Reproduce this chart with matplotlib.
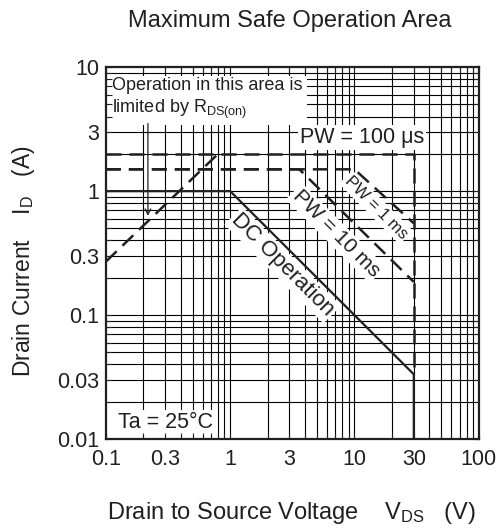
import numpy as np
import matplotlib
matplotlib.use("Agg")
import matplotlib.pyplot as plt
from matplotlib.ticker import FixedLocator, FixedFormatter, NullFormatter

plt.rcParams['font.family'] = ['Liberation Sans', 'DejaVu Sans']
plt.rcParams['mathtext.fontset'] = 'custom'
plt.rcParams['mathtext.rm'] = 'Liberation Sans'
plt.rcParams['mathtext.it'] = 'Liberation Sans'

# safe operating area boundaries (V_DS in V, I_D in A)
dc_v = [0.1, 1, 30, 30]
dc_i = [1.0, 1.0, 0.0333, 0.01]
pw100us_v = [0.1, 30, 30]
pw100us_i = [2.0, 2.0, 0.0333]
pw1ms_v = [0.1, 10, 30]
pw1ms_i = [1.5, 1.5, 0.55]
pw10ms_v = [0.1, 3.6, 30]
pw10ms_i = [1.5, 1.5, 0.185]
rds_v = [0.1, 0.8]
rds_i = [0.27, 2.0]

tick_vals = [0.1, 0.3, 1, 3, 10, 30, 100]
tick_labels = ['0.1', '0.3', '1', '3', '10', '30', '100']
ytick_vals = [0.01, 0.03, 0.1, 0.3, 1, 3, 10]
ytick_labels = ['0.01', '0.03', '0.1', '0.3', '1', '3', '10']

ink = '#231f20'

fig = plt.figure(figsize=(5.04, 5.29), dpi=100)
ax = fig.add_axes([0.210, 0.170, 0.740, 0.703])
ax.set_xscale('log')
ax.set_yscale('log')
ax.set_xlim(0.1, 100)
ax.set_ylim(0.01, 10)

# grid drawn by hand so that text boxes can cover it while ticks stay on top
def log_grid(lo, hi):
    out = []
    for e in range(int(np.log10(lo)), int(np.log10(hi)) + 1):
        for m in range(1, 10):
            v = m * 10.0 ** e
            if lo < v < hi:
                out.append(v)
    return out

for v in log_grid(0.1, 100):
    ax.axvline(v, color='black', lw=0.8, zorder=1)
for v in log_grid(0.01, 10):
    ax.axhline(v, color='black', lw=0.8, zorder=1)

ax.plot(dc_v, dc_i, color=ink, lw=1.6, zorder=3)
dash = dict(color=ink, lw=1.8, dashes=(6, 3.2), zorder=3)
ax.plot(pw100us_v, pw100us_i, **dash)
ax.plot(pw1ms_v, pw1ms_i, **dash)
ax.plot(pw10ms_v, pw10ms_i, **dash)
ax.plot(rds_v, rds_i, **dash)

wbox = dict(facecolor='white', edgecolor='none', pad=1.5)
ax.text(0.112, 8.4, 'Operation in this area is\nlimited by R$_{\\mathrm{DS(on)}}$',
        fontsize=13, ha='left', va='top', linespacing=1.25, color=ink,
        bbox=dict(facecolor='white', edgecolor='none', pad=3), zorder=2)
ax.annotate('', xy=(0.218, 0.6), xytext=(0.218, 3.7),
            arrowprops=dict(arrowstyle='->', color=ink, lw=0.9), zorder=2)
ax.text(11.5, 2.72, 'PW = 100 μs', fontsize=15.5, ha='center', va='center',
        color=ink, bbox=wbox, zorder=2)
ax.text(14.9, 0.74, 'PW = 1 ms', fontsize=12, ha='center', va='center',
        rotation=-45, rotation_mode='anchor', color=ink, bbox=wbox, zorder=2)
ax.text(7.08, 0.458, 'PW = 10 ms', fontsize=15, ha='center', va='center',
        rotation=-45, rotation_mode='anchor', color=ink, bbox=wbox, zorder=2)
ax.text(2.65, 0.253, 'DC Operation', fontsize=16, ha='center', va='center',
        rotation=-45, rotation_mode='anchor', color=ink, bbox=wbox, zorder=2)
ax.text(0.30, 0.0135, 'Ta = 25°C', fontsize=15.5, ha='center', va='center',
        color=ink, bbox=wbox, zorder=2)

ax.set_axisbelow(False)
ax.xaxis.set_major_locator(FixedLocator(tick_vals))
ax.xaxis.set_major_formatter(FixedFormatter(tick_labels))
ax.xaxis.set_minor_formatter(NullFormatter())
ax.yaxis.set_major_locator(FixedLocator(ytick_vals))
ax.yaxis.set_major_formatter(FixedFormatter(ytick_labels))
ax.yaxis.set_minor_formatter(NullFormatter())
ax.tick_params(which='both', direction='in', top=True, right=True,
               length=4, width=0.8, colors=ink, labelsize=15.5, pad=5)
ax.tick_params(axis='x', pad=7)
for s in ax.spines.values():
    s.set_linewidth(1.6)
    s.set_color(ink)
    s.set_zorder(4)

fig.text(0.575, 0.960, 'Maximum Safe Operation Area', fontsize=17,
         ha='center', va='center', color=ink)
fig.text(0.578, 0.030, 'Drain to Source Voltage    V$_{\\mathrm{DS}}$   (V)',
         fontsize=17, ha='center', va='center', color=ink)
fig.text(0.046, 0.507, 'Drain Current    I$_{\\mathrm{D}}$   (A)',
         fontsize=16.5, ha='center', va='center', rotation=90, color=ink)

fig.savefig('out.png', dpi=100)
